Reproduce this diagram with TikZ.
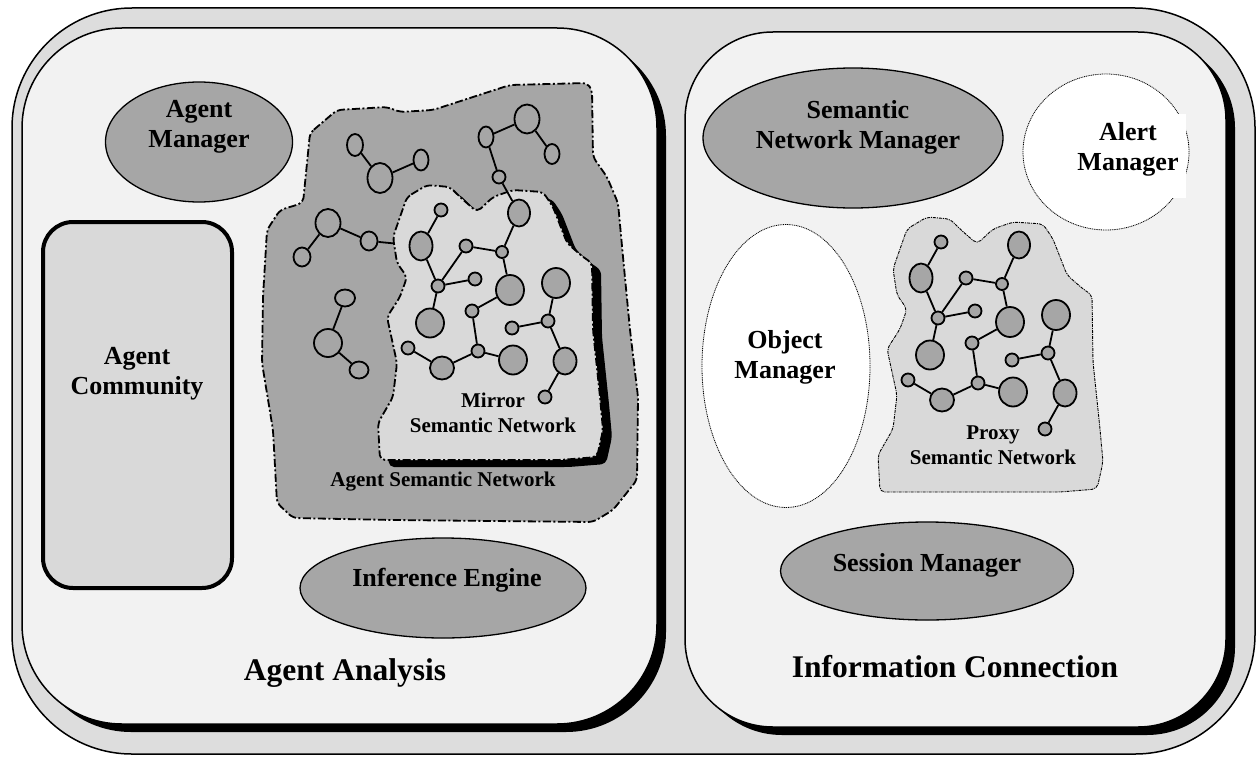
\documentclass[tikz,border=0pt]{standalone}
\usepackage{fontspec}
\setmainfont{Liberation Serif}
\usepackage{tikz}
\usetikzlibrary{shapes.geometric}
\definecolor{panelgray}{HTML}{F2F2F2}
\definecolor{framegray}{HTML}{DDDDDD}
\definecolor{lightfill}{HTML}{D9D9D9}
\definecolor{midfill}{HTML}{A6A6A6}

% the small semantic network (mirror coordinates), reused for the proxy
\newcommand\netnodes{1/441/210/13/13, 2/421/246/23/29, 3/466/246/13/13,
  4/502/252/12/12, 5/519/213/22/27, 6/438/286/13/13, 7/475/279/13/13,
  8/510/290/28/30, 9/430/323/28/29, 10/472/311/13/13, 11/556/283/28/30,
  12/548/321/13/13, 13/512/328/13/13, 14/408/348/13/13, 15/442/368/24/23,
  16/478/351/13/13, 17/513/360/28/29, 18/565/361/23/27, 19/545/397/13/13}
\newcommand\netedges{1/2, 2/6, 6/3, 6/7, 3/4, 4/5, 4/8, 8/10, 10/16, 6/9,
  14/15, 15/16, 16/17, 11/12, 12/13, 12/18, 18/19}
\newcommand\netblob{(407,197) -- (427,185) -- (450,187) -- (460,197) -- (477,212)
  -- (493,197) -- (513,190) -- (543,192) -- (553,207) -- (567,243) -- (583,257)
  -- (592,263) -- (593,330) -- (600,397) -- (603,430) -- (597,457) -- (560,460)
  -- (380,460) -- (378,423) -- (393,397) -- (397,363) -- (387,317) -- (400,297)
  -- (407,277) -- (397,263) -- (393,237) -- (400,217) -- cycle}

\begin{document}
\begin{tikzpicture}[x=1pt,y=-1pt,
      panel/.style={draw=black,line width=1.5pt,fill=panelgray},
      mgr/.style={ellipse,draw=black,line width=1.3pt,fill=midfill,inner sep=0pt},
      opt/.style={ellipse,draw=black,line width=0.8pt,dash pattern=on 1pt off 0.8pt,
                  fill=white,inner sep=0pt},
      lbl/.style={font=\fontsize{26}{30}\selectfont\bfseries,align=center},
      paneltitle/.style={font=\fontsize{31.5}{36}\selectfont\bfseries},
      netlbl/.style={font=\fontsize{21}{25}\selectfont\bfseries,align=center},
      nd/.style 2 args={ellipse,draw=black,line width=1.8pt,fill=midfill,inner sep=0pt,
                        minimum width=#1pt,minimum height=#2pt},
      link/.style={draw=black,line width=1.8pt},
      dashdot/.style={line width=1.8pt,dash pattern=on 8pt off 2.5pt on 2pt off 2.5pt}
    ]
      \useasboundingbox (0,0) rectangle (1257,757);
      % outer frame and the two panels
      \draw[fill=framegray,line width=1.5pt,rounded corners=120pt] (12,8) rectangle (1255,754);
      \fill[black,rounded corners=100pt] (31,36) rectangle (666,732);
      \draw[panel,rounded corners=100pt] (22,28) rectangle (657,724);
      \fill[black,rounded corners=88pt] (694,40) rectangle (1235,735);
      \draw[panel,rounded corners=88pt] (685,32) rectangle (1226,727);
      % Agent Analysis
      \node[mgr,minimum width=187pt,minimum height=120pt] (amgr) at (199,142) {};
      \node[lbl] (amgrT) at (199,127) {Agent\\Manager};
      \node[draw=black,line width=4pt,fill=lightfill,rounded corners=30pt,
            minimum width=189pt,minimum height=366pt] (acom) at (137.5,405) {};
      \node[lbl] (acomT) at (137,374) {Agent\\Community};
      \node[mgr,minimum width=286pt,minimum height=100pt] (ieng) at (443,588) {};
      \node[lbl] (iengT) at (447,580) {Inference Engine};
      % agent semantic network
      \draw[dashdot,fill=midfill,rounded corners=5pt] (310,133) -- (337,110) -- (387,107)
        -- (400,112) -- (433,110) -- (473,97) -- (510,85) -- (587,83) -- (592,90)
        -- (593,157) -- (607,177) -- (618,203) -- (623,257) -- (630,330) -- (638,397)
        -- (637,480) -- (613,510) -- (593,522) -- (393,520) -- (293,518) -- (277,503)
        -- (273,430) -- (262,363) -- (263,297) -- (267,230) -- (280,210) -- (303,203) -- cycle;
      \node[nd={16}{22}] (a1) at (355,145) {};
      \node[nd={25}{30}] (a2) at (380,178) {};
      \node[nd={15}{21}] (a3) at (421,160) {};
      \node[nd={15}{21}] (b1) at (486,137) {};
      \node[nd={25}{29}] (b2) at (527,119) {};
      \node[nd={15}{20}] (b3) at (552,154) {};
      \node[nd={13}{13}] (b4) at (499,177) {};
      \node[nd={25}{28}] (c1) at (328,223) {};
      \node[nd={17}{19}] (c2) at (302,257) {};
      \node[nd={17}{19}] (c3) at (369,241) {};
      \coordinate (cEnd) at (400,244);
      \node[nd={20}{17}] (d1) at (345,298) {};
      \node[nd={28}{28}] (d2) at (328,343) {};
      \node[nd={19}{17}] (d3) at (359,370) {};
      \draw[link] (a1) -- (a2) -- (a3);
      \draw[link] (b3) -- (b2) -- (b1) -- (b4);
      \draw[link] (c2) -- (c1) -- (c3) -- (cEnd);
      \draw[link] (d1) -- (d2) -- (d3);
      % mirror semantic network
      \fill[black,shift={(9,7)},rounded corners=5pt] \netblob;
      \draw[dashdot,fill=lightfill,rounded corners=5pt] \netblob;
      \foreach \n/\x/\y/\w/\h in \netnodes {
        \node[nd={\w}{\h}] (m\n) at (\x,\y) {};
      }
      \foreach \a/\b in \netedges {
        \draw[link] (m\a) -- (m\b);
      }
      \draw[link] (b4) -- (m5);
      \node[netlbl] (mirT) at (493,413) {Mirror\\Semantic Network};
      \node[netlbl] (asnT) at (443,482) {Agent Semantic Network};
      \node[paneltitle] (agaT) at (345,673) {Agent Analysis};
      % Information Connection
      \node[mgr,minimum width=300pt,minimum height=140pt] (snm) at (853,138) {};
      \node[lbl] (snmT) at (858,127) {Semantic\\Network Manager};
      \node[opt,minimum width=166pt,minimum height=156pt] (alm) at (1106,152) {};
      \fill[white] (1060,114) rectangle (1186,198);
      \node[lbl] (almT) at (1128,149) {Alert\\Manager};
      \node[opt,minimum width=168pt,minimum height=283pt] (obm) at (786,366) {};
      \node[lbl] (obmT) at (785,357) {Object\\Manager};
      \begin{scope}[shift={(500,32)}]
        \draw[line width=0.9pt,dash pattern=on 3pt off 1pt on 1pt off 1pt,
              fill=lightfill,rounded corners=5pt] \netblob;
        \foreach \n/\x/\y/\w/\h in \netnodes {
          \node[nd={\w}{\h}] (p\n) at (\x,\y) {};
        }
        \foreach \a/\b in \netedges {
          \draw[link] (p\a) -- (p\b);
        }
        \node[netlbl] (prxT) at (493,413) {Proxy\\Semantic Network};
      \end{scope}
      \node[mgr,minimum width=293pt,minimum height=98pt] (ssm) at (927,571) {};
      \node[lbl] (ssmT) at (927,565) {Session Manager};
      \node[paneltitle] (infT) at (955,667) {Information Connection};
\end{tikzpicture}
\end{document}
